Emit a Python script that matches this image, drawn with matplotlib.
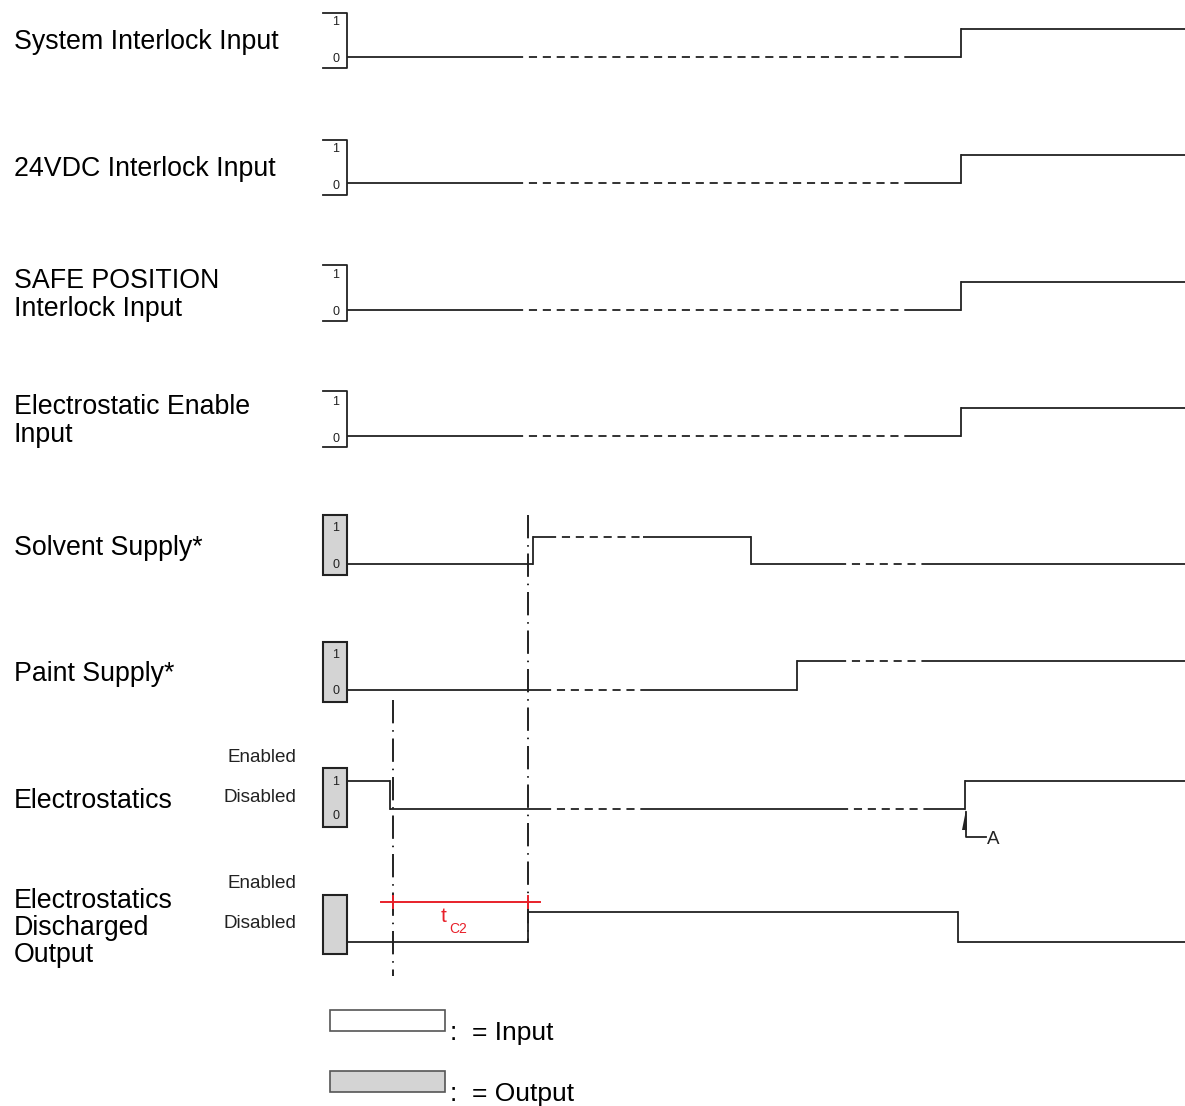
import matplotlib.pyplot as plt
from matplotlib.patches import Rectangle

plt.rcParams['font.family'] = ['Liberation Sans', 'DejaVu Sans']

# signal names (left labels) and which ones are outputs
names = ['System Interlock Input', '24VDC Interlock Input',
         'SAFE POSITION\nInterlock Input', 'Electrostatic Enable\nInput',
         'Solvent Supply*', 'Paint Supply*', 'Electrostatics',
         'Electrostatics\nDischarged\nOutput']
is_output = [False, False, False, False, True, True, True, True]

# time axis (in drawing units): edges of each level, the level held, dashed spans
edges = [
    [347, 961, 1185],
    [347, 961, 1185],
    [347, 961, 1185],
    [347, 961, 1185],
    [347, 533, 751, 1185],
    [347, 797, 1185],
    [347, 390, 965, 1185],
    [347, 528, 958, 1185],
]
levels = [
    [0, 1], [0, 1], [0, 1], [0, 1],
    [0, 1, 0],
    [0, 1],
    [1, 0, 1],
    [0, 1, 0],
]
dashed = [
    [(515, 910)], [(515, 910)], [(515, 910)], [(515, 910)],
    [(548, 643), (838, 922)],
    [(543, 643), (838, 922)],
    [(543, 648), (840, 928)],
    [],
]
markers_t = [393, 528]

# layout
row_low = [57, 183, 310, 436, 564, 690, 809, 942]
row_high = [29, 155, 282, 408, 537, 661, 781, 912]
box_top = [13, 140, 265, 391, 515, 642, 768, 895]
box_bot = [68, 195, 321, 447, 575, 702, 827, 954]
one_y = [22, 149, 275, 402, 528, 655, 782, None]
zero_y = [59, 186, 312, 439, 565, 691, 816, None]
label_y = [42, 169, 295, 421, 548, 674, 801, 928]
ink = '#222222'
grey = '#d4d4d4'
red = '#e8202a'

fig = plt.figure(figsize=(11.85, 11.06), dpi=100)
ax = fig.add_axes([0, 0, 1, 1])
ax.set_xlim(0, 1185)
ax.set_ylim(1106, 0)
ax.axis('off')

lw = 1.3
dash = (0, (4.5, 3.2))


def hseg(x0, x1, y, spans):
    pts = [x0]
    for a, b in spans:
        if x0 < a < x1:
            pts.append(a)
        if x0 < b < x1:
            pts.append(b)
    pts.append(x1)
    for p, q in zip(pts[:-1], pts[1:]):
        mid = (p + q) / 2
        dsh = any(a <= mid <= b for a, b in spans)
        ax.plot([p, q], [y, y], color=ink, lw=lw,
                linestyle=dash if dsh else '-', solid_capstyle='butt')


for i in range(len(names)):
    lo, hi = row_low[i], row_high[i]
    ylev = lambda v: hi if v else lo
    e, lv = edges[i], levels[i]
    for k in range(len(lv)):
        hseg(e[k], e[k + 1], ylev(lv[k]), dashed[i])
        if k > 0:
            ax.plot([e[k], e[k]], [ylev(lv[k - 1]), ylev(lv[k])], color=ink, lw=lw)

    # level box
    t, b = box_top[i], box_bot[i]
    if is_output[i]:
        ax.add_patch(Rectangle((323, t), 24, b - t, facecolor=grey,
                               edgecolor=ink, lw=1.5, zorder=3))
    else:
        ax.plot([323, 347, 347, 323], [t, t, b, b], color=ink, lw=1.3)
    if one_y[i] is not None:
        ax.text(336, one_y[i], '1', fontsize=9, ha='center', va='center',
                color=ink, zorder=4)
        ax.text(336, zero_y[i], '0', fontsize=9, ha='center', va='center',
                color=ink, zorder=4)

    ax.text(14, label_y[i], names[i], fontsize=19.3, ha='left', va='center',
            color='black', linespacing=1.07)

# Enabled / Disabled tags
for y0 in (757, 883):
    ax.text(296, y0, 'Enabled', fontsize=13.6, ha='right', va='center', color=ink)
    ax.text(296, y0 + 41, 'Disabled', fontsize=13.6, ha='right', va='center', color=ink)

# vertical timing markers
mark_style = (0, (12, 3.5, 0.8, 3.5))
ax.plot([markers_t[0]] * 2, [700, 976], color=ink, lw=1.4, linestyle=mark_style)
ax.plot([markers_t[1]] * 2, [515, 942], color=ink, lw=1.4, linestyle=mark_style)

# A marker
ax.fill([962, 967, 966], [830, 830, 810], color=ink, lw=0)
ax.plot([966, 966, 986], [812, 837, 837], color=ink, lw=1.3)
ax.text(987, 839, 'A', fontsize=13.5, ha='left', va='center', color=ink)

# tC2 interval
ax.plot([381, 540], [902, 902], color=red, lw=1.4)
for xm in markers_t:
    ax.plot([xm, xm], [896, 908], color=red, lw=1.4)
ax.text(441, 917, 't', fontsize=15, color=red, ha='left', va='center')
ax.text(449, 929, 'C2', fontsize=10, color=red, ha='left', va='center')

# legend
ax.add_patch(Rectangle((330, 1010), 115, 21, facecolor='white', edgecolor='#555555', lw=1.2))
ax.add_patch(Rectangle((330, 1071), 115, 21, facecolor=grey, edgecolor='#555555', lw=1.2))
ax.text(450, 1040, ':  = Input', fontsize=19, ha='left', va='baseline', color='black')
ax.text(450, 1101, ':  = Output', fontsize=19, ha='left', va='baseline', color='black')

fig.savefig('out.png', dpi=100)
